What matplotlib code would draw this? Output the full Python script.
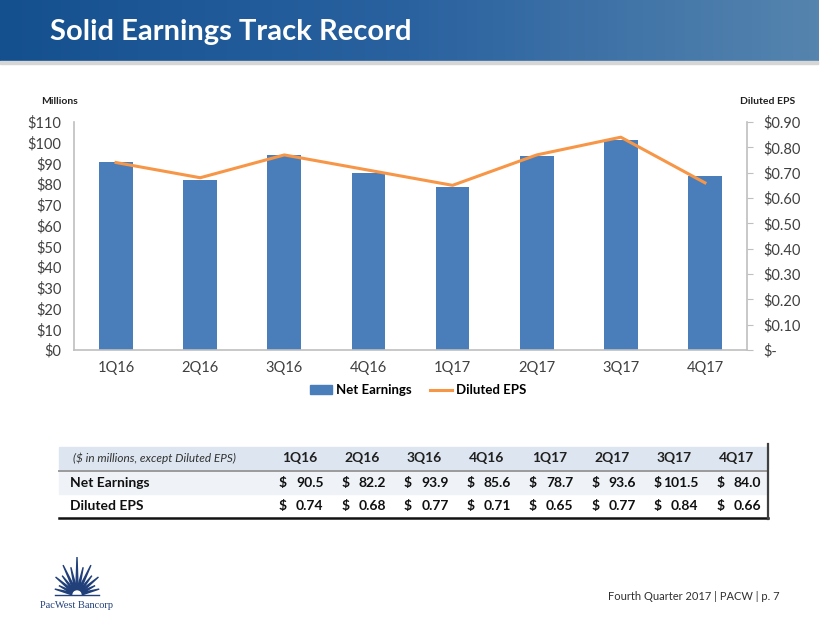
import numpy as np
import matplotlib
matplotlib.use("Agg")
import matplotlib.pyplot as plt
from matplotlib.patches import Rectangle, Polygon, Wedge
from matplotlib.lines import Line2D
from matplotlib.colors import LinearSegmentedColormap

plt.rcParams['font.family'] = ['Lato', 'DejaVu Sans']

quarters = ['1Q16', '2Q16', '3Q16', '4Q16', '1Q17', '2Q17', '3Q17', '4Q17']
net_earnings = [90.5, 82.2, 93.9, 85.6, 78.7, 93.6, 101.5, 84.0]
diluted_eps = [0.74, 0.68, 0.77, 0.71, 0.65, 0.77, 0.84, 0.66]
left_ticks = [0, 10, 20, 30, 40, 50, 60, 70, 80, 90, 100, 110]
right_ticks = [0.0, 0.1, 0.2, 0.3, 0.4, 0.5, 0.6, 0.7, 0.8, 0.9]

W, H = 830, 623
fig = plt.figure(figsize=(8.3, 6.23), dpi=100)


def fx(x):
    return x / W


def fy(y):
    return 1 - y / H


# header banner
bax = fig.add_axes([0, fy(61), fx(818), 61 / H])
grad = np.linspace(0, 1, 256).reshape(1, -1)
cmap = LinearSegmentedColormap.from_list('hdr', ['#15508e', '#2a62a0', '#5584ae'])
bax.imshow(grad, aspect='auto', cmap=cmap, extent=[0, 1, 0, 1])
bax.axis('off')
fig.patches.append(Rectangle((0, fy(64)), fx(818), 3 / H, transform=fig.transFigure,
                             color='#d6d6d6', zorder=0))
fig.text(fx(50), fy(32), 'Solid Earnings Track Record', color='white',
         fontsize=21, fontweight='bold', va='center')

# main chart
ax = fig.add_axes([fx(74), fy(350), fx(747) - fx(74), (350 - 122) / H])
x = np.arange(len(quarters))
ax.bar(x, net_earnings, width=0.4, color='#4a7ebb', zorder=2)
ax.set_xlim(-0.5, len(quarters) - 0.5)
ax.set_ylim(0, 110)
ax.set_yticks(left_ticks)
ax.set_yticklabels(['$%d' % v for v in left_ticks])
ax.set_xticks(x)
ax.set_xticklabels(quarters)
ax.tick_params(axis='y', length=0, labelsize=10.5, colors='#404040', pad=9)
ax.tick_params(axis='x', length=0, labelsize=10.5, colors='#404040', pad=8)
for s in ['top', 'right']:
    ax.spines[s].set_visible(False)
for s in ['left', 'bottom']:
    ax.spines[s].set_color('#bfbfbf')
    ax.spines[s].set_linewidth(1.2)

ax2 = ax.twinx()
ax2.plot(x, diluted_eps, color='#f79646', lw=2.2, zorder=3)
ax2.set_ylim(0, 0.9)
ax2.set_yticks(right_ticks)
ax2.set_yticklabels(['$-' if v == 0 else '$%.2f' % v for v in right_ticks])
ax2.tick_params(axis='y', length=4, labelsize=10.5, pad=8, colors='#bfbfbf', labelcolor='#404040')
for s in ['top', 'left', 'bottom']:
    ax2.spines[s].set_visible(False)
ax2.spines['right'].set_color('#bfbfbf')
ax2.spines['right'].set_linewidth(1.2)

fig.text(fx(41), fy(101), 'Millions', fontsize=7.5, fontweight='bold', color='#202020', va='center')
fig.text(fx(740), fy(101), 'Diluted EPS', fontsize=7.5, fontweight='bold', color='#202020', va='center')

handles = [Rectangle((0, 0), 1, 1, color='#4a7ebb'),
           Line2D([0], [0], color='#f79646', lw=2.2)]
fig.legend(handles, ['Net Earnings', 'Diluted EPS'], loc='center', bbox_to_anchor=(fx(418), fy(390)),
           ncol=2, frameon=False, prop={'weight': 'bold', 'size': 9.5}, handlelength=1.7,
           handleheight=0.6, columnspacing=1.4, handletextpad=0.25)

# table
tl, tr = 59, 768
col0 = 268
colw = (tr - col0) / len(quarters)
fig.patches.append(Rectangle((fx(tl), fy(469)), fx(tr - tl), 22 / H, transform=fig.transFigure,
                             color='#dde6f0', zorder=0))
fig.patches.append(Rectangle((fx(tl), fy(494)), fx(tr - tl), 23 / H, transform=fig.transFigure,
                             color='#eff3f8', zorder=0))
fig.add_artist(Line2D([fx(tl), fx(tr)], [fy(470.5), fy(470.5)], color='#9a9a9a', lw=1.4))
fig.add_artist(Line2D([fx(tl), fx(tr)], [fy(518), fy(518)], color='#111111', lw=1.8))
fig.add_artist(Line2D([fx(tr), fx(tr)], [fy(444), fy(519)], color='#404040', lw=1.6))

fig.text(fx(73), fy(458), '($ in millions, except Diluted EPS)', fontsize=8.5, style='italic',
         color='#303030', va='center')
fig.text(fx(70), fy(483), 'Net Earnings', fontsize=10, fontweight='bold', color='#101010', va='center')
fig.text(fx(70), fy(506), 'Diluted EPS', fontsize=10, fontweight='bold', color='#101010', va='center')
for i, q in enumerate(quarters):
    c0 = col0 + i * colw
    fig.text(fx(c0 + colw / 2), fy(458), q, fontsize=10, fontweight='bold', color='#202020',
             ha='center', va='center')
    for yy, txt in [(483, '%.1f' % net_earnings[i]), (506, '%.2f' % diluted_eps[i])]:
        fig.text(fx(c0 + 11), fy(yy), '$', fontsize=10, fontweight='bold', color='#101010', va='center')
        fig.text(fx(c0 + colw - 7), fy(yy), txt, fontsize=10, fontweight='bold', color='#101010',
                 ha='right', va='center')

# logo
lax = fig.add_axes([fx(30), fy(612), fx(95), 55 / H])
lax.set_xlim(0, 95)
lax.set_ylim(0, 55)
lax.axis('off')
cx, cy = 47, 17
for k, ang in enumerate(np.linspace(15, 165, 13)):
    ln = 38 - abs(ang - 90) * 0.2
    if k % 2 == 1:
        ln *= 0.8
    a = np.radians(ang)
    w = np.radians(4.5)
    tip = (cx + ln * np.cos(a), cy + ln * np.sin(a))
    p1 = (cx + 5 * np.cos(a - w * 3), cy + 5 * np.sin(a - w * 3))
    p2 = (cx + 5 * np.cos(a + w * 3), cy + 5 * np.sin(a + w * 3))
    lax.add_patch(Polygon([p1, tip, p2, (cx, cy)], color='#21407a'))
lax.add_patch(Wedge((cx, cy), 4, 0, 180, color='white'))
lax.add_artist(Line2D([cx - 22, cx + 22], [cy, cy], color='#21407a', lw=1))
lax.text(cx, 6, 'PacWest Bancorp', family=['Liberation Serif', 'DejaVu Serif'], fontsize=7.5,
         color='#21407a', ha='center', va='center')

fig.text(fx(780), fy(597), 'Fourth Quarter 2017 | PACW | p. 7', fontsize=8, color='#303030',
         ha='right', va='center')

fig.savefig('out.png', dpi=100)
